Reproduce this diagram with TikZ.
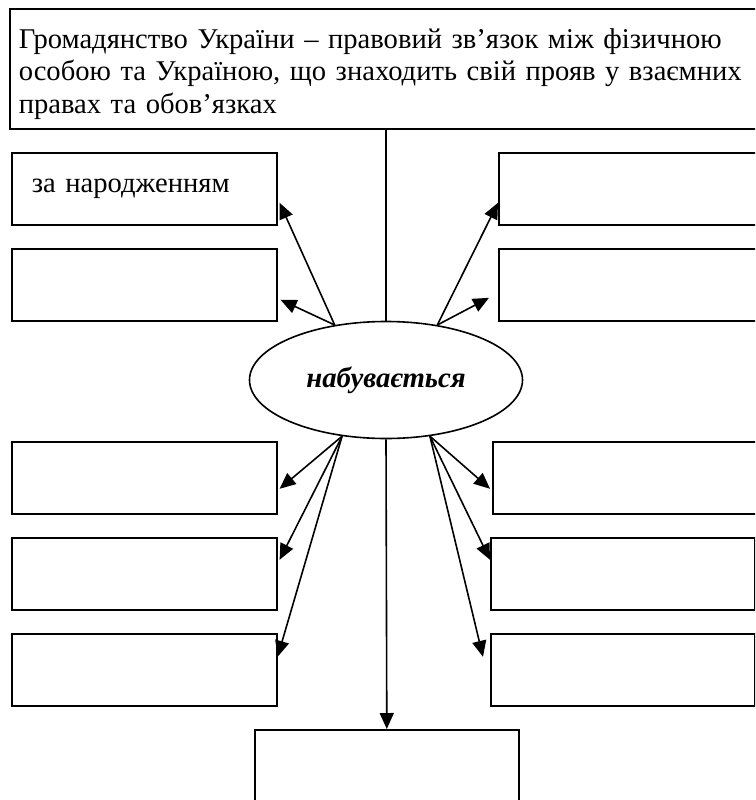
\documentclass[tikz,border=0pt]{standalone}
\usepackage{fontspec}
\setmainfont{Liberation Serif}
\usetikzlibrary{arrows.meta,shapes.geometric,calc}

\begin{document}
\begin{tikzpicture}[x=1pt, y=-1pt,
    font=\fontsize{28.6}{32.5}\selectfont,
    box/.style={draw, line width=1.6pt, rectangle, anchor=north west, inner sep=0pt, minimum height=72pt},
    sidebox/.style={box, minimum width=265pt},
    arr/.style={-{Triangle[length=16pt,width=14pt]}, line width=1.6pt}]
  \useasboundingbox (0,0) rectangle (755,800);
  \clip (0,0) rectangle (755,800);

  \node[box, minimum width=770pt, minimum height=120pt, text width=752pt, inner xsep=9pt, align=left] (def) at (9,8)
    {\rule{0pt}{30pt}Громадянство України – правовий зв’язок між фізичною\\особою та Україною, що знаходить свій прояв у взаємних\\правах та обов’язках};

  \node[draw, ellipse, line width=1.6pt, minimum width=273pt, minimum height=117pt, inner sep=0pt,
        font=\fontsize{28.8}{32}\selectfont\bfseries\itshape] (acq) at (386,380) {набувається};

  % upper boxes
  \node[sidebox, text width=225pt, inner xsep=20pt, align=left] (ul1) at (11,152) {за народженням};
  \node[sidebox] (ul2) at (11,248) {};
  \node[box, minimum width=270pt] (ur1) at (498,152) {};
  \node[box, minimum width=270pt] (ur2) at (498,248) {};

  % lower boxes
  \node[sidebox] (ll1) at (11,441) {};
  \node[sidebox] (ll2) at (11,537) {};
  \node[sidebox] (ll3) at (11,633) {};
  \node[box, minimum width=270pt] (lr1) at (492,441) {};
  \node[box, minimum width=264pt] (lr2) at (490,537) {};
  \node[box, minimum width=264pt] (lr3) at (490,633) {};

  \node[box, minimum width=264pt, minimum height=90pt] (res) at (254,729) {};

  \draw[line width=1.6pt] (acq.north) -- (acq.north |- def.south);

  \draw[arr] (acq.133) -- ($(ul1.east)+(2,14)$);
  \draw[arr] (acq.133) -- ($(ul2.east)+(3,15)$);
  \draw[arr] (acq.47) -- ($(ur1.west)+(0,14)$);
  \draw[arr] (acq.47) -- ($(ur2.west)+(-9,13)$);

  \draw[arr] (acq.232) -- ($(ll1.east)+(2,11)$);
  \draw[arr] (acq.232) -- ($(ll2.east)+(2,-14)$);
  \draw[arr] (acq.232) -- ($(ll3.east)+(0,-13)$);
  \draw[arr] (acq.308) -- ($(lr1.west)+(-2,11)$);
  \draw[arr] (acq.308) -- ($(lr2.west)+(0,-14)$);
  \draw[arr] (acq.308) -- ($(lr3.west)+(-7,-13)$);

  \draw[arr] (acq.south) -- (res.north);
\end{tikzpicture}
\end{document}
